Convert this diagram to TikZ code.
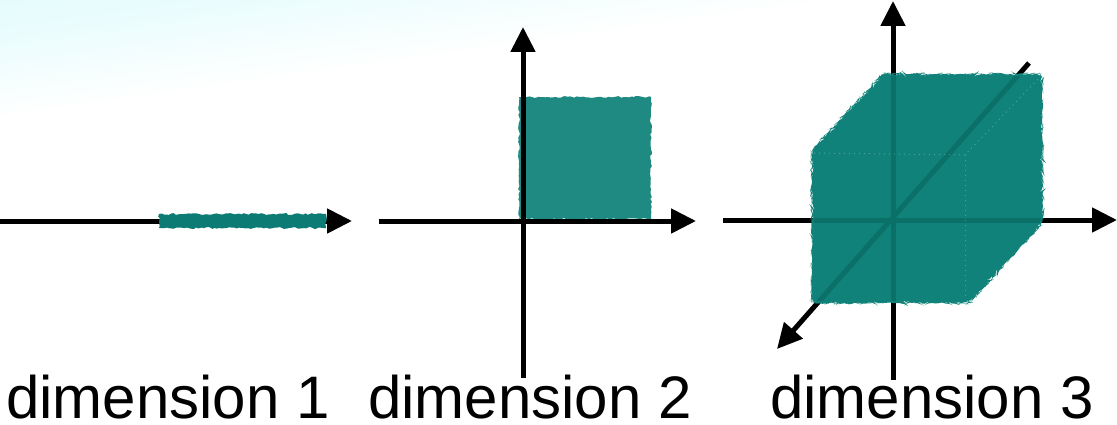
\documentclass[tikz,border=0pt]{standalone}
\usepackage{fontspec}
\setmainfont{Liberation Sans}
\usetikzlibrary{arrows.meta,decorations.pathmorphing}
\definecolor{tealA}{RGB}{11,123,115}
\definecolor{tealB}{RGB}{31,138,130}
\definecolor{tealC}{RGB}{16,130,122}
\definecolor{tealD}{RGB}{10,112,104}
\definecolor{bgcyan}{RGB}{200,248,250}
\begin{document}
\begin{tikzpicture}[x=1pt,y=-1pt,
  axis/.style={line width=5pt,-{Triangle[length=25pt,width=24pt]}},
  inner axis/.style={line width=5pt, tealD},
  rough/.style={decorate, decoration={random steps, segment length=2.5pt, amplitude=1pt}},
  lbl/.style={font=\fontsize{60}{72}\selectfont, anchor=base west, inner sep=0pt, text depth=0pt},
  faint/.style={white, opacity=0.25, line width=1pt, loosely dotted}]
\useasboundingbox (0,0) rectangle (1117,425);
\foreach \i in {0,...,19}
  \fill[bgcyan, opacity=0.03] (0,0) -- ({820*(1-\i/20)},0) -- (0,{115*(1-\i/20)}) -- cycle;

% panel 1
\coordinate (a1s) at (0,221);
\coordinate (a1e) at (352,221);
\draw[axis] (a1s) -- (a1e);
\fill[tealA, rough] (159,214) rectangle (326,228);
\node[lbl] (l1) at (6,418) {dimension 1};

% panel 2
\fill[tealB, rough] (519,97) rectangle (651,219);
\coordinate (b1s) at (379,221);
\coordinate (b1e) at (696,221);
\coordinate (b2s) at (523,378);
\coordinate (b2e) at (523,27);
\draw[axis] (b1s) -- (b1e);
\draw[axis] (b2s) -- (b2e);
\node[lbl] (l2) at (368,418) {dimension 2};

% panel 3
\coordinate (c1s) at (723,220);
\coordinate (c1e) at (1117,220);
\coordinate (c2s) at (893,380);
\coordinate (c2e) at (893,1);
\coordinate (c3s) at (1029,63);
\coordinate (c3e) at (777,349);
\draw[axis] (c1s) -- (c1e);
\draw[axis] (c2s) -- (c2e);
\draw[axis] (c3s) -- (c3e);
\fill[tealC, rounded corners=5pt, rough]
  (812,150) -- (883,74) -- (1042,74) -- (1043,222) -- (969,303) -- (812,303) -- cycle;
\begin{scope}
  \clip[rounded corners=5pt]
    (814,152) -- (884,76) -- (1040,76) -- (1041,222) -- (968,301) -- (814,301) -- cycle;
  \draw[inner axis] (c1s) -- (c1e);
  \draw[inner axis] (c2s) -- (c2e);
  \draw[inner axis] (c3s) -- (c3e);
\end{scope}
\draw[faint] (814,153) -- (965,155) -- (1040,77);
\draw[faint] (965,155) -- (965,300);
\node[lbl] (l3) at (770,418) {dimension 3};
\end{tikzpicture}
\end{document}
